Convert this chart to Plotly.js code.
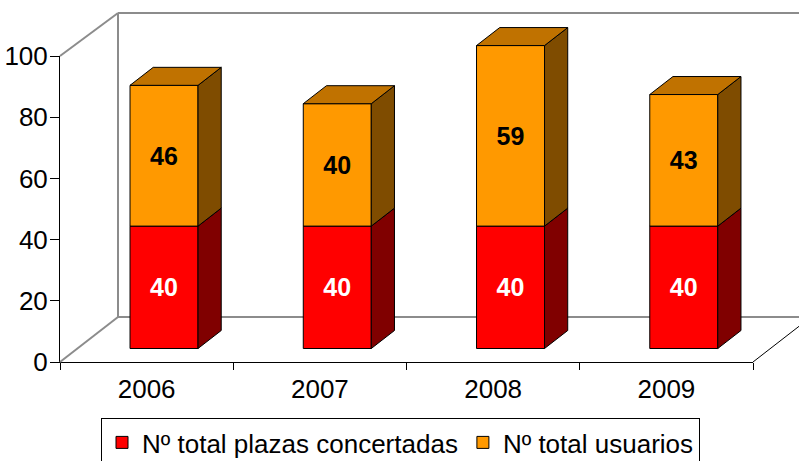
<!DOCTYPE html>
<html>
<head>
<meta charset="utf-8">
<script src="https://cdn.plot.ly/plotly-3.0.1.min.js"></script>
<style>html,body{margin:0;padding:0;background:#fff}</style>
</head>
<body>
<div id="chart" style="width:799px;height:461px"></div>
<script>
// ---- data ----
const years = ['2006', '2007', '2008', '2009'];
const plazas = [40, 40, 40, 40];
const usuarios = [46, 40, 59, 43];
const seriesNames = ['Nº total plazas concertadas', 'Nº total usuarios'];
const yTicks = [0, 20, 40, 60, 80, 100];

// ---- geometry (pixel layout of the 3D frame) ----
const W = 799, H = 461;
const PL = 60, PR = 753, PT = 56, PB = 362;      // front plane box
const DXpx = 58, DYpx = 45;                      // depth vector
const ux = 4 / (PR - PL);                        // category units per px
const uy = 100 / (PB - PT);                      // value units per px
const DX = DXpx * ux, DY = DYpx * uy;
const barW = 68 * ux;
const f0 = 0.3, f1 = 0.7;                        // bar depth span
const FONT = 'Liberation Sans, Arial, sans-serif';
const FS = 26, FSBAR = 25;

const colors = {
  red: '#FF0000', redSide: '#800000',
  orange: '#FF9900', orangeTop: '#C07200', orangeSide: '#7F4C00'
};

const traces = [];
// invisible trace to establish the front category axis
traces.push({
  type: 'scatter', mode: 'none', x: years, y: usuarios,
  xaxis: 'x', yaxis: 'y', showlegend: false, hoverinfo: 'skip'
});

const xFront = years.map((_, i) => i + f0 * DX);
const base0 = f0 * DY;

traces.push({
  type: 'bar', name: seriesNames[0], xaxis: 'x2', yaxis: 'y2',
  x: xFront, y: plazas, base: plazas.map(() => base0), width: barW,
  marker: {color: colors.red, line: {color: '#000', width: 1}},
  text: plazas.map(String), textposition: 'inside', insidetextanchor: 'middle',
  textangle: 0, constraintext: 'none',
  textfont: {family: FONT, size: FSBAR, color: '#fff', weight: 'bold'}
});
traces.push({
  type: 'bar', name: seriesNames[1], xaxis: 'x2', yaxis: 'y2',
  x: xFront, y: usuarios, base: plazas.map(v => v + base0), width: barW,
  marker: {color: colors.orange, line: {color: '#000', width: 1}},
  text: usuarios.map(String), textposition: 'inside', insidetextanchor: 'middle',
  textangle: 0, constraintext: 'none',
  textfont: {family: FONT, size: FSBAR, color: '#000', weight: 'bold'}
});

function poly(xs, ys, fill) {
  traces.push({
    type: 'scatter', mode: 'lines', xaxis: 'x2', yaxis: 'y2',
    x: xs.concat([xs[0]]), y: ys.concat([ys[0]]), fill: 'toself', fillcolor: fill,
    line: {color: '#000', width: 1}, showlegend: false, hoverinfo: 'skip'
  });
}
const ddx = (f1 - f0) * DX, ddy = (f1 - f0) * DY;
years.forEach((_, i) => {
  const xl = xFront[i] - barW / 2, xr = xFront[i] + barW / 2;
  const y0 = base0, y1 = base0 + plazas[i], y2 = y1 + usuarios[i];
  poly([xr, xr + ddx, xr + ddx, xr], [y0, y0 + ddy, y1 + ddy, y1], colors.redSide);
  poly([xr, xr + ddx, xr + ddx, xr], [y1, y1 + ddy, y2 + ddy, y2], colors.orangeSide);
  poly([xl, xr, xr + ddx, xl + ddx], [y2, y2, y2 + ddy, y2 + ddy], colors.orangeTop);
});

// ---- wall / floor frame lines ----
const grey = {color: '#8C8C8C', width: 2};
const xa = -0.5, xb = 3.5;
const wallTop = 100 + DY - 2 * uy;
function seg(x0, y0, x1, y1, line) {
  return {type: 'line', xref: 'x2', yref: 'y2', layer: 'below', x0, y0, x1, y1, line};
}
const shapes = [
  seg(xa, 100, xa + DX, wallTop, grey),
  seg(xa + DX, DY, xa + DX, wallTop, grey),
  seg(xa + DX, wallTop, xb + DX, wallTop, grey),
  seg(xa + DX, DY, xb + DX, DY, grey),
  seg(xa, 0, xa + DX, DY, grey),
  seg(xb, 0, xb + DX, DY, {color: '#000', width: 1})
];

const layout = {
  width: W, height: H,
  margin: {l: 0, r: 0, t: 0, b: 0, autoexpand: false},
  paper_bgcolor: '#fff', plot_bgcolor: 'rgba(0,0,0,0)',
  font: {family: FONT, size: FS, color: '#000'},
  barmode: 'overlay',
  showlegend: true,
  xaxis: {
    domain: [PL / W, PR / W], anchor: 'y', type: 'category',
    categoryarray: years, range: [-0.5, 3.5], tickson: 'boundaries',
    ticks: 'outside', ticklen: 7, tickcolor: '#000', tickwidth: 1,
    ticklabelstandoff: 4,
    showline: true, linecolor: '#000', linewidth: 1,
    showgrid: false, zeroline: false, fixedrange: true, automargin: false,
    tickfont: {family: FONT, size: FS, color: '#000'}
  },
  yaxis: {
    domain: [(H - PB) / H, (H - PT) / H], anchor: 'x',
    range: [0, 100], tickvals: yTicks, ticktext: yTicks.map(String),
    ticks: 'outside', ticklen: 9, tickcolor: '#000', tickwidth: 1,
    ticklabelstandoff: -3,
    showline: true, linecolor: '#000', linewidth: 1,
    showgrid: false, zeroline: false, fixedrange: true, automargin: false,
    tickfont: {family: FONT, size: FS, color: '#000'}
  },
  xaxis2: {
    domain: [0, 1], anchor: 'y2', visible: false, fixedrange: true,
    range: [xa - PL * ux, xb + (W - PR) * ux]
  },
  yaxis2: {
    domain: [0, 1], anchor: 'x2', visible: false, fixedrange: true,
    range: [-(H - PB) * uy, 100 + PT * uy]
  },
  legend: {
    orientation: 'h', x: 101 / W, y: (H - 418) / H, xanchor: 'left', yanchor: 'top',
    bordercolor: '#000', borderwidth: 1, bgcolor: '#fff',
    font: {family: FONT, size: FS, color: '#000'}, itemwidth: 30, traceorder: 'normal'
  },
  shapes: shapes
};

Plotly.newPlot('chart', traces, layout, {displayModeBar: false, staticPlot: true});
</script>
</body>
</html>
